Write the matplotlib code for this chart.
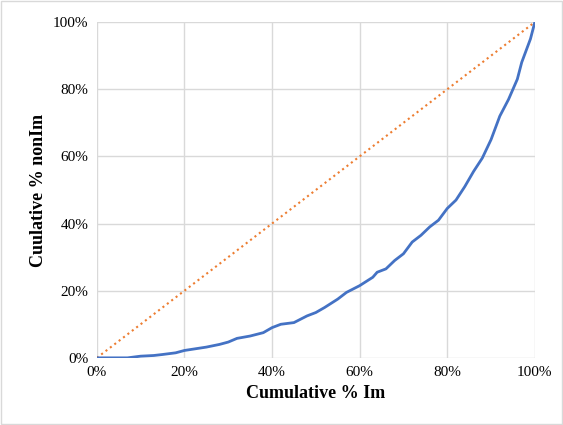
import matplotlib.pyplot as plt
from matplotlib.ticker import PercentFormatter

plt.rcParams['font.family'] = ['Liberation Serif', 'DejaVu Serif']

cum_im = [0, 3, 7, 10, 13, 15, 18, 20, 23, 25, 28, 30, 32, 35, 38, 40, 42, 45, 48, 50,
          52, 55, 57, 60, 63, 64, 66, 68, 70, 72, 74, 76, 78, 80, 82, 84, 86, 88, 90,
          92, 94, 95, 96, 97, 98, 99, 100]
cum_nonim = [0, 0, 0, 0.5, 0.7, 1, 1.5, 2.2, 2.8, 3.2, 4, 4.7, 5.8, 6.5, 7.5, 9, 10, 10.5,
             12.5, 13.5, 15, 17.5, 19.5, 21.5, 24, 25.5, 26.5, 29, 31, 34.5, 36.5, 39,
             41, 44.5, 47, 51, 55.5, 59.5, 65, 72, 77, 80, 83, 88, 91.5, 95, 100]

fig = plt.figure(figsize=(5.63, 4.25), dpi=100)
ax = fig.add_axes([0.172, 0.158, 0.778, 0.79])
fig.patches.append(plt.Rectangle((0.002, 0.002), 0.996, 0.996, transform=fig.transFigure,
                                 fill=False, edgecolor='#d9d9d9', linewidth=1))

ax.plot([0, 100], [0, 100], color='#ed7d31', linestyle=':', linewidth=1.5)
ax.plot(cum_im, cum_nonim, color='#4472c4', linewidth=2)

ax.set_xlim(0, 100)
ax.set_ylim(0, 100)
ax.set_xticks(range(0, 101, 20))
ax.set_yticks(range(0, 101, 20))
ax.xaxis.set_major_formatter(PercentFormatter(decimals=0))
ax.yaxis.set_major_formatter(PercentFormatter(decimals=0))
ax.grid(True, color='#d9d9d9', linewidth=1)
for s in ax.spines.values():
    s.set_visible(False)
ax.tick_params(length=0, labelsize=11, pad=6)
ax.set_xlabel('Cumulative % Im', fontsize=13, fontweight='bold')
ax.set_ylabel('Cuulative % nonIm', fontsize=13, fontweight='bold')

fig.savefig('out.png')
